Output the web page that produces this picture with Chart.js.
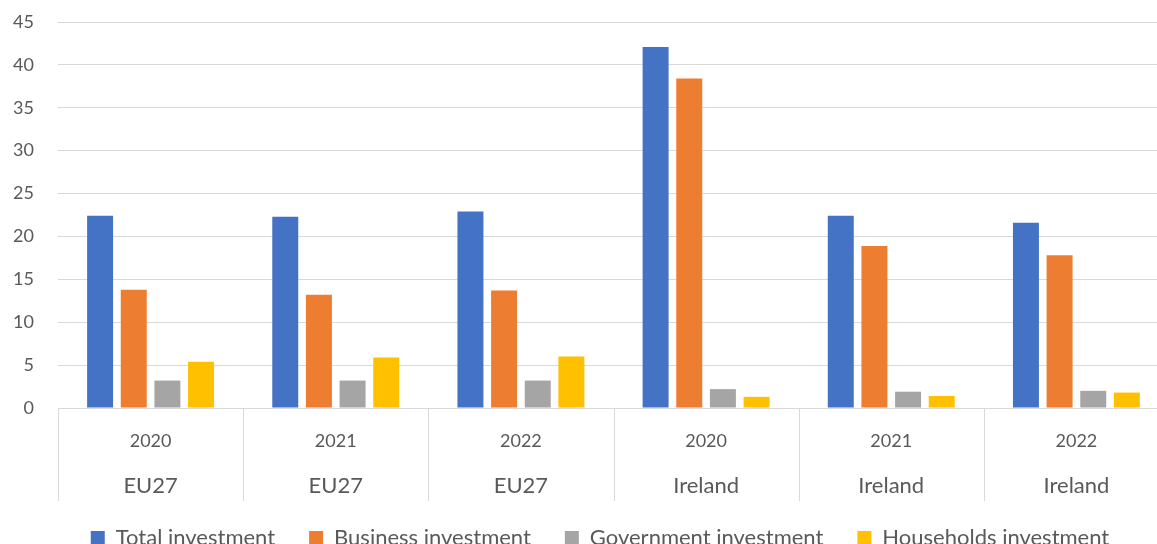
<!DOCTYPE html>
<html>
<head>
<meta charset="utf-8">
<script src="https://cdn.jsdelivr.net/npm/chart.js@4.4.1/dist/chart.umd.min.js"></script>
<style>
  html, body { margin: 0; padding: 0; background: #ffffff; overflow: hidden; }
  #wrap { position: absolute; left: 0; top: 0; width: 1200px; height: 559px; }
</style>
</head>
<body>
<div id="wrap"><canvas id="chart"></canvas></div>
<script>
// Investment as % of GDP, EU27 vs Ireland
const years = ['2020', '2021', '2022', '2020', '2021', '2022'];
const regions = ['EU27', 'EU27', 'EU27', 'Ireland', 'Ireland', 'Ireland'];
const yTicks = [0, 5, 10, 15, 20, 25, 30, 35, 40, 45];

const totalInvestment      = [22.4, 22.3, 22.9, 42.1, 22.4, 21.6];
const businessInvestment   = [13.8, 13.2, 13.7, 38.4, 18.9, 17.8];
const governmentInvestment = [3.2, 3.2, 3.2, 2.2, 1.9, 2.0];
const householdsInvestment = [5.4, 5.9, 6.0, 1.3, 1.4, 1.8];

const seriesNames = ['Total investment', 'Business investment', 'Government investment', 'Households investment'];
const seriesColors = ['#4472C4', '#ED7D31', '#A5A5A5', '#FFC000'];
const seriesValues = [totalInvestment, businessInvestment, governmentInvestment, householdsInvestment];

const FONT = "Lato, 'Open Sans', sans-serif";
const TEXT = '#595959';
const GRID = '#d9d9d9';
const Y_FONT_SIZE = 18;

// width of the widest y tick label, so the labels can be right-aligned 24px left of the plot
const measureCtx = document.createElement('canvas').getContext('2d');
measureCtx.font = `${Y_FONT_SIZE}px ${FONT}`;
const widestTick = Math.max(...yTicks.map(v => measureCtx.measureText(String(v)).width));

// vertical separators between the category groups in the label area
const groupSeparators = {
  id: 'groupSeparators',
  afterDraw(chart) {
    const x = chart.scales.x;
    const ctx = chart.ctx;
    const top = chart.chartArea.bottom;
    const bottom = top + 93;
    ctx.save();
    ctx.strokeStyle = GRID;
    ctx.lineWidth = 1;
    for (let i = 0; i <= years.length; i++) {
      const px = Math.round(x.getPixelForValue(i - 0.5)) + 0.5;
      ctx.beginPath();
      ctx.moveTo(px, top);
      ctx.lineTo(px, bottom);
      ctx.stroke();
    }
    ctx.restore();
  }
};

new Chart(document.getElementById('chart'), {
  type: 'bar',
  data: {
    labels: years,
    datasets: seriesNames.map((name, i) => ({
      label: name,
      data: seriesValues[i],
      backgroundColor: seriesColors[i],
      borderWidth: 0,
      categoryPercentage: 0.727,
      barPercentage: 0.772
    }))
  },
  options: {
    responsive: true,
    maintainAspectRatio: false,
    animation: false,
    layout: { padding: { top: 22, left: 31, right: 31, bottom: 0 } },
    plugins: {
      tooltip: { enabled: false },
      legend: {
        position: 'bottom',
        labels: {
          boxWidth: 14,
          boxHeight: 14,
          padding: 34,
          color: TEXT,
          font: { family: FONT, size: 22 }
        }
      }
    },
    scales: {
      x: {
        type: 'category',
        position: 'bottom',
        weight: 0,
        offset: true,
        grid: { display: false, drawTicks: false },
        border: { display: true, color: GRID, width: 1 },
        ticks: { color: TEXT, font: { family: FONT, size: 18 }, padding: 22, maxRotation: 0, autoSkip: false },
        afterFit(scale) { scale.height = 46; }
      },
      x2: {
        type: 'category',
        position: 'bottom',
        weight: 1,
        labels: regions,
        offset: true,
        grid: { display: false, drawTicks: false },
        border: { display: false },
        ticks: { color: TEXT, font: { family: FONT, size: 22 }, padding: 19, maxRotation: 0, autoSkip: false },
        afterFit(scale) { scale.height = 39; }
      },
      y: {
        min: 0,
        max: 45,
        afterBuildTicks(scale) { scale.ticks = yTicks.map(v => ({ value: v })); },
        grid: { color: GRID, lineWidth: 1, drawTicks: false },
        border: { display: false },
        ticks: {
          color: TEXT,
          font: { family: FONT, size: Y_FONT_SIZE },
          mirror: true,
          crossAlign: 'far',
          padding: -24 - widestTick
        },
        afterFit(scale) { scale.width = 27; }
      }
    }
  },
  plugins: [groupSeparators]
});
</script>
</body>
</html>
